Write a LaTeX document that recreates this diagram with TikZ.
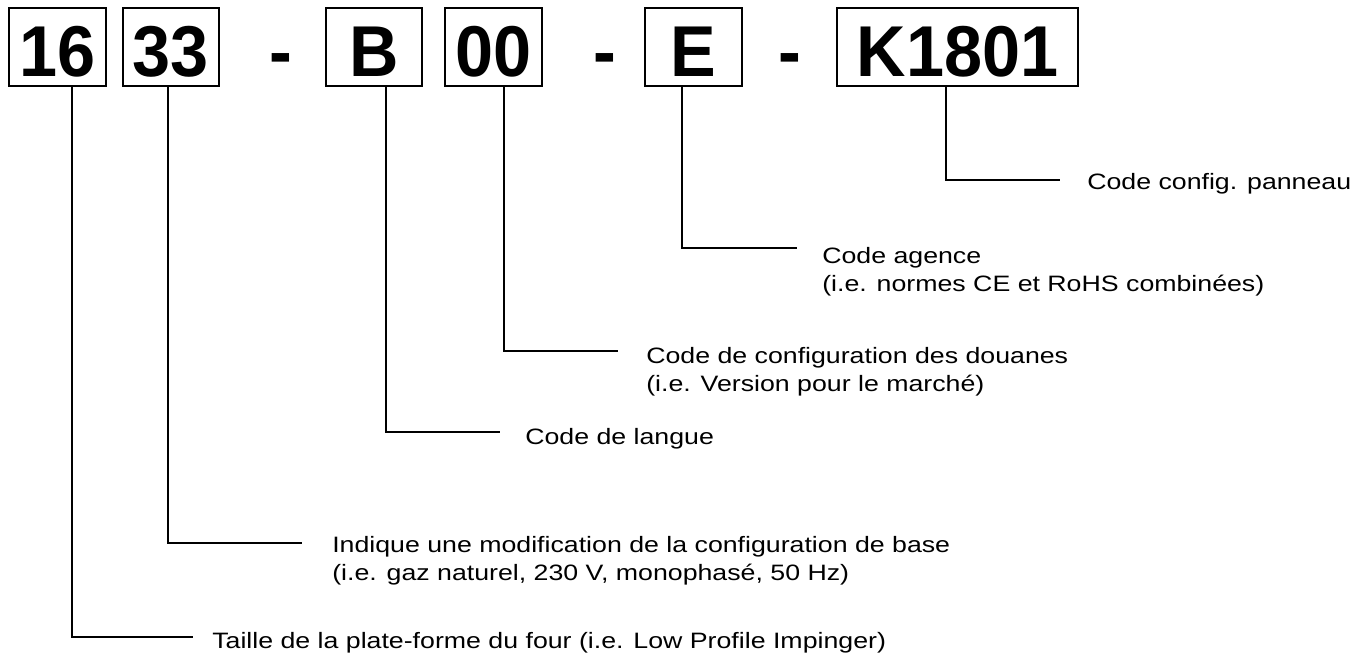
\documentclass[tikz,border=0pt]{standalone}
\usepackage{fontspec}
\setmainfont{Liberation Sans}
\newfontfamily\lblfont[FakeStretch=1.2]{Liberation Sans}
\newfontfamily\codefont[FakeStretch=0.95]{Liberation Sans}
\begin{document}
\begin{tikzpicture}[x=0.75pt,y=-0.75pt,
  codebox/.style={draw=black,line width=0.9pt,minimum height=78*0.75pt,inner sep=0pt,
    text height=45pt,text depth=0pt,
    font=\codefont\fontsize{54}{60}\selectfont\bfseries},
  sepmark/.style={inner sep=0pt,font=\codefont\fontsize{54}{60}\selectfont\bfseries},
  lead/.style={draw=black,line width=1pt},
  desc/.style={anchor=north west,inner sep=0pt,align=left,
    font=\lblfont\fontsize{16.7}{21}\selectfont}]
\useasboundingbox (0,0) rectangle (1362,656);
% boxes
\node[codebox,minimum width=97*0.75pt] (b16) at (57.5,47) {16};
\node[codebox,minimum width=96*0.75pt] (b33) at (171,47) {33};
\node[codebox,minimum width=96*0.75pt] (bB) at (374,47) {B};
\node[codebox,minimum width=97*0.75pt] (b00) at (493.5,47) {00};
\node[codebox,minimum width=97*0.75pt] (bE) at (693.5,47) {E};
\node[codebox,minimum width=241*0.75pt] (bK) at (957.5,47) {K1801};
% separators
\node[sepmark,anchor=base] (d1) at (281,77) {-};
\node[sepmark,anchor=base] (d2) at (605,77) {-};
\node[sepmark,anchor=base] (d3) at (790,77) {-};
% corner/end coordinates
\coordinate (c16) at (72,637);  \coordinate (e16) at (193,637);
\coordinate (c33) at (168,543); \coordinate (e33) at (302,543);
\coordinate (cB) at (386,432);  \coordinate (eB) at (500,432);
\coordinate (c00) at (504,351); \coordinate (e00) at (618,351);
\coordinate (cE) at (682,248);  \coordinate (eE) at (797,248);
\coordinate (cK) at (946,180);  \coordinate (eK) at (1060,180);
% leaders
\draw[lead] (b16.south -| c16) -- (c16) -- (e16);
\draw[lead] (b33.south -| c33) -- (c33) -- (e33);
\draw[lead] (bB.south -| cB) -- (cB) -- (eB);
\draw[lead] (b00.south -| c00) -- (c00) -- (e00);
\draw[lead] (bE.south -| cE) -- (cE) -- (eE);
\draw[lead] (bK.south -| cK) -- (cK) -- (eK);
% descriptions
\node[desc] (t16) at (212,632) {Taille de la plate-forme du four (i.e. Low Profile Impinger)};
\node[desc] (t33) at (332,536) {Indique une modification de la configuration de base\\(i.e. gaz naturel, 230 V, monophasé, 50 Hz)};
\node[desc] (tB) at (525,428) {Code de langue};
\node[desc] (t00) at (646,347) {Code de configuration des douanes\\(i.e. Version pour le marché)};
\node[desc] (tE) at (822,247) {Code agence\\(i.e. normes CE et RoHS combinées)};
\node[desc] (tK) at (1087,173) {Code config. panneau};
\end{tikzpicture}
\end{document}
